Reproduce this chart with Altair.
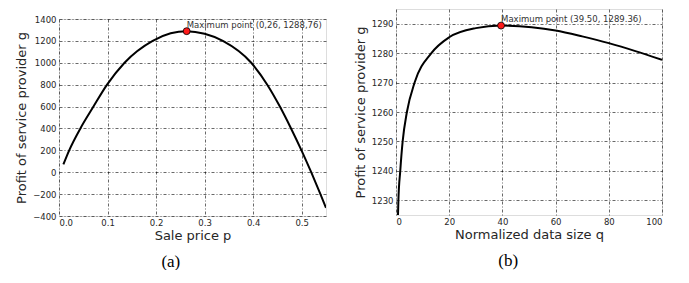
import altair as alt
import pandas as pd

# ---------------- data: panel (a) ----------------
sale_price = [0.009, 0.021, 0.044, 0.071, 0.099, 0.135, 0.193, 0.23, 0.263, 0.30,
              0.3375, 0.396, 0.429, 0.455, 0.478, 0.4995, 0.5195, 0.5385, 0.55]
profit_a = [71, 200, 400, 600, 800, 1000, 1200, 1269, 1288.76, 1265,
            1200, 1000, 800, 600, 400, 200, 0, -200, -325]
max_a_x = [0.263]
max_a_y = [1288.76]
max_a_label = ["Maximum point (0,26, 1288,76)"]
ticks_a_x = [0.0, 0.1, 0.2, 0.3, 0.4, 0.5]
ticks_a_y = [-400, -200, 0, 200, 400, 600, 800, 1000, 1200, 1400]

# ---------------- data: panel (b) ----------------
data_size = [0.75, 0.9, 1.6, 2.5, 4.1, 7.0, 13.3, 20, 30, 39.5,
             51, 60, 70, 80, 90, 100]
profit_b = [1225, 1230, 1240, 1250, 1260, 1270, 1280, 1285.4, 1288.5, 1289.36,
            1288.8, 1287.7, 1285.7, 1283.4, 1280.7, 1277.7]
max_b_x = [39.5]
max_b_y = [1289.36]
max_b_label = ["Maximum point (39.50, 1289.36)"]
ticks_b_x = [0, 20, 40, 60, 80, 100]
ticks_b_y = [1230, 1240, 1250, 1260, 1270, 1280, 1290]

FONT = "DejaVu Sans"
GRID = dict(grid=True, gridColor="#000000", gridDash=[3, 2, 1, 2], gridWidth=0.7,
            gridOpacity=0.85, domain=False, ticks=False, tickSize=0, tickCount=30,
            labelOverlap=False, labelFont=FONT, labelFontSize=8.5,
            labelColor="#262626", titleFont=FONT, titleFontSize=13,
            titleFontWeight="normal", titleColor="#262626")


def panel(xs, ys, mx, my, mlabel, xdom, ydom, xticks, yticks, xfmt, xtitle,
          caption, w, h):
    df = pd.DataFrame({"x": xs, "y": ys})
    dm = pd.DataFrame({"x": mx, "y": my, "label": mlabel})
    xsc = alt.Scale(domain=xdom, nice=False, zero=False)
    ysc = alt.Scale(domain=ydom, nice=False, zero=False)
    xax = alt.Axis(values=xticks, format=xfmt, title=xtitle, labelPadding=2,
                   titlePadding=3, **GRID)
    yax = alt.Axis(values=yticks, format="d", title="Profit of service provider g",
                   labelPadding=3, titlePadding=4, **GRID)
    line = alt.Chart(df).mark_line(color="#000000", strokeWidth=2,
                                   interpolate="monotone", clip=True).encode(
        x=alt.X("x:Q", scale=xsc, axis=xax),
        y=alt.Y("y:Q", scale=ysc, axis=yax),
    )
    pt = alt.Chart(dm).mark_circle(size=48, color="#ff1a1a", stroke="#000000",
                                   strokeWidth=0.8, opacity=1).encode(
        x=alt.X("x:Q", scale=xsc, axis=xax), y=alt.Y("y:Q", scale=ysc, axis=yax))
    txt = alt.Chart(dm).mark_text(align="left", baseline="bottom", dy=-1.5,
                                  fontSize=8.5, font=FONT, color="#333333").encode(
        x=alt.X("x:Q", scale=xsc, axis=xax), y=alt.Y("y:Q", scale=ysc, axis=yax),
        text="label:N")
    return alt.layer(line, pt, txt).properties(
        width=w, height=h,
        title=alt.TitleParams(caption, orient="bottom", anchor="middle",
                              frame="bounds", font="Liberation Serif",
                              fontSize=17, fontWeight="normal", color="#000000",
                              offset=11),
    )


a = panel(sale_price, profit_a, max_a_x, max_a_y, max_a_label, [0, 0.55],
          [-400, 1400], ticks_a_x, ticks_a_y, ".1f", "Sale price p", "(a)",
          267, 197)
b = panel(data_size, profit_b, max_b_x, max_b_y, max_b_label, [0, 100],
          [1225, 1295], ticks_b_x, ticks_b_y, "d", "Normalized data size q",
          "(b)", 266, 206)

# invisible spacer that lowers panel (a) so that both plot bottoms line up
spacer = alt.Chart(pd.DataFrame({"s": [""]})).mark_text(
    baseline="top", fontSize=1, opacity=0).encode(
    x=alt.value(0), y=alt.value(0), text="s:N"
).properties(width=1, height=5, view=alt.ViewBackground(strokeOpacity=0))

a_col = alt.vconcat(spacer, a, spacing=0)

chart = alt.hconcat(a_col, b, spacing=26).properties(
    padding={"left": 7, "top": 0, "right": 0, "bottom": 0}
).configure_view(stroke="#000000", strokeWidth=1).configure(background="white")

chart.save("out.html", embed_options={"renderer": "svg", "actions": False})
